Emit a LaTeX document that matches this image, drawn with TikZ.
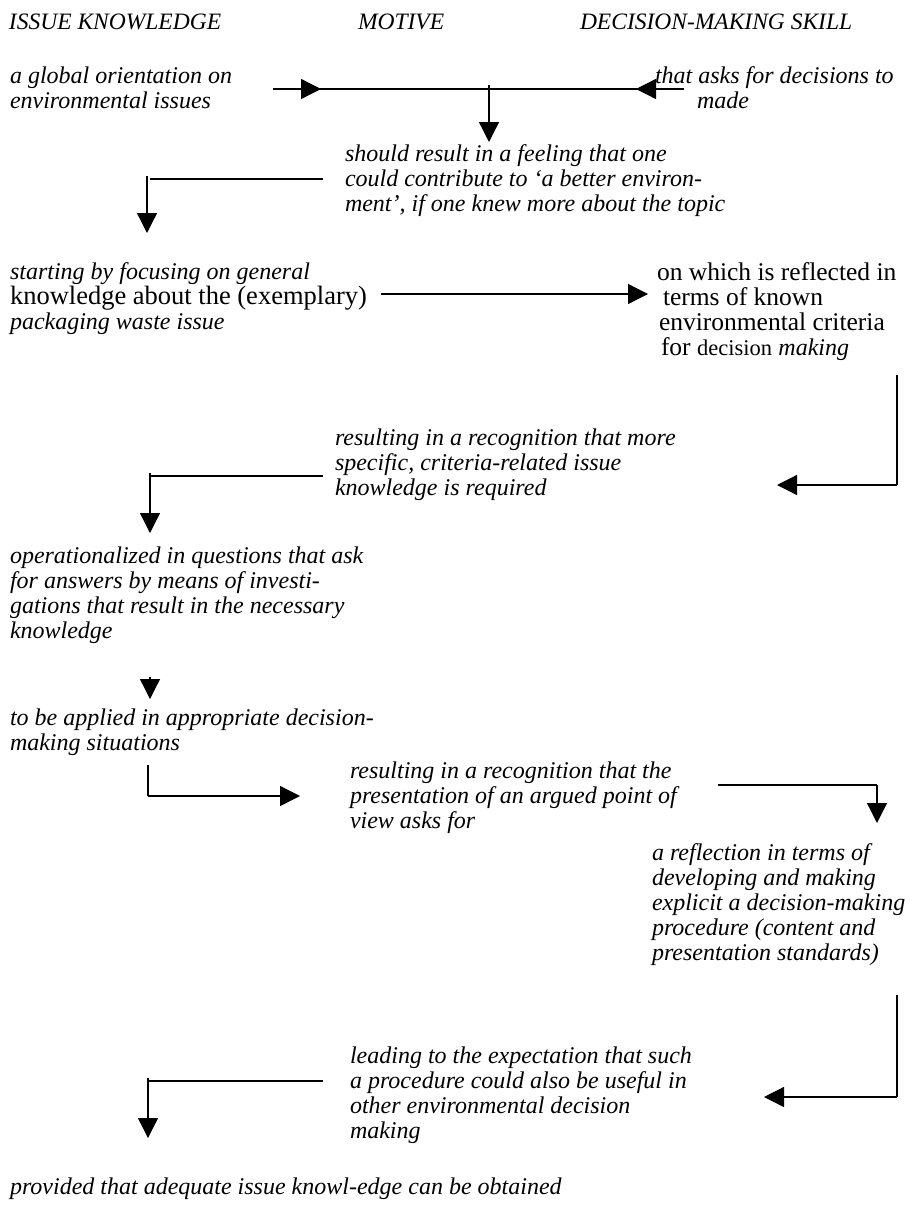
\documentclass[tikz,border=0pt]{standalone}
\usepackage{fontspec}
\setmainfont{Liberation Serif}[ItalicFont={Liberation Serif Italic}]
\usetikzlibrary{arrows.meta}

\tikzset{
  txt/.style={anchor=base west, inner sep=0pt, outer sep=0pt,
    font=\fontsize{24}{25}\selectfont\itshape},
  upr/.style={anchor=base west, inner sep=0pt, outer sep=0pt,
    font=\fontsize{25.5}{24.5}\selectfont\upshape},
  wire/.style={line width=1.3pt},
  arr/.style={line width=1.3pt, -{Triangle[length=20pt,width=20pt]}},
}
\newcommand{\blk}[1]{\begin{tabular}[t]{@{}l@{}}#1\end{tabular}}

\begin{document}
\begin{tikzpicture}[x=1pt,y=-1pt]
\useasboundingbox (0,0) rectangle (911,1205);

% column headings
\node[txt,font=\fontsize{23.5}{25}\selectfont\itshape] (h1) at (9,29) {ISSUE KNOWLEDGE};
\node[txt,font=\fontsize{23.5}{25}\selectfont\itshape] (h2) at (358,29) {MOTIVE};
\node[txt,font=\fontsize{23.5}{25}\selectfont\itshape] (h3) at (580,29) {DECISION-MAKING SKILL};

% text blocks
\node[txt] (t1) at (10,83) {\blk{a global orientation on\\environmental issues}};
\node[txt] (t2) at (655,83) {\blk{that asks for decisions to\\\hspace*{42pt}made}};
\node[txt] (t3) at (345,161) {\blk{should result in a feeling that one\\could contribute to ‘a better environ-\\ment’, if one knew more about the topic}};
\node[txt] (t4) at (10,279) {\blk{starting by focusing on general\\{\fontsize{26.5}{25}\selectfont\upshape knowledge about the (exemplary)}\\packaging waste issue}};
\node[upr] (t5) at (657,280) {\blk{on which is reflected in\\\hspace*{6pt}terms of known\\\hspace*{2pt}environmental criteria\\\hspace*{4pt}for {\fontsize{22.5}{24.5}\selectfont decision} {\fontsize{24}{24.5}\selectfont\itshape making}}};
\node[txt] (t6) at (335,445) {\blk{resulting in a recognition that more\\specific, criteria-related issue\\knowledge is required}};
\node[txt] (t7) at (10,563) {\blk{operationalized in questions that ask\\for answers by means of investi-\\gations that result in the necessary\\knowledge}};
\node[txt] (t8) at (10,725) {\blk{to be applied in appropriate decision-\\making situations}};
\node[txt] (t9) at (350,778) {\blk{resulting in a recognition that the\\presentation of an argued point of\\view asks for}};
\node[txt] (t10) at (652,860) {\blk{a reflection in terms of\\developing and making\\explicit a decision-making\\procedure (content and\\presentation standards)}};
\node[txt] (t11) at (350,1063) {\blk{leading to the expectation that such\\a procedure could also be useful in\\other environmental decision\\making}};
\node[txt] (t12) at (10,1194) {provided that adequate issue knowl-edge can be obtained};

% connector points
\coordinate (a0) at (273,89);
\coordinate (a1) at (321,89);
\coordinate (a2) at (636,89);
\coordinate (a3) at (684,89);
\coordinate (a4) at (489,85);
\coordinate (a5) at (489,142);

\coordinate (b0) at (323,179);
\coordinate (b1) at (150,179);
\coordinate (b2) at (147,176);
\coordinate (b3) at (147,233);

\coordinate (c0) at (381,294);
\coordinate (c1) at (648,294);

\coordinate (d0) at (897,375);
\coordinate (d1) at (897,485);
\coordinate (d2) at (777,485);

\coordinate (e0) at (323,476);
\coordinate (e1) at (150,476);
\coordinate (e2) at (150,473);
\coordinate (e3) at (150,533);

\coordinate (f0) at (150,677);
\coordinate (f1) at (150,699);

\coordinate (g0) at (148,765);
\coordinate (g1) at (148,796);
\coordinate (g2) at (300,796);

\coordinate (k0) at (718,785);
\coordinate (k1) at (877,785);
\coordinate (k2) at (877,823);

\coordinate (m0) at (897,995);
\coordinate (m1) at (897,1097);
\coordinate (m2) at (764,1097);

\coordinate (n0) at (323,1081);
\coordinate (n1) at (148,1081);
\coordinate (n2) at (148,1078);
\coordinate (n3) at (148,1138);

% connectors
\draw[wire] (a0) -- (a3);
\draw[arr] (a0) -- (a1);
\draw[arr] (a3) -- (a2);
\draw[arr] (a4) -- (a5);

\draw[wire] (b0) -- (b1);
\draw[arr] (b2) -- (b3);

\draw[arr] (c0) -- (c1);

\draw[wire] (d0) -- (d1);
\draw[arr] (d1) -- (d2);

\draw[wire] (e0) -- (e1);
\draw[arr] (e2) -- (e3);

\draw[arr] (f0) -- (f1);

\draw[wire] (g0) -- (g1);
\draw[arr] (g1) -- (g2);

\draw[wire] (k0) -- (k1);
\draw[arr] (k1) -- (k2);

\draw[wire] (m0) -- (m1);
\draw[arr] (m1) -- (m2);

\draw[wire] (n0) -- (n1);
\draw[arr] (n2) -- (n3);
\end{tikzpicture}
\end{document}
